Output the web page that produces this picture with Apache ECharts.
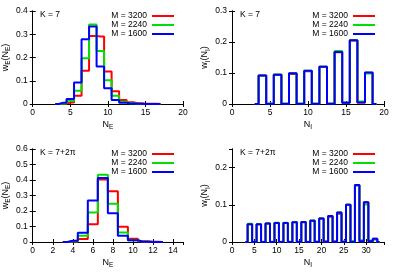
<!DOCTYPE html>
<html><head><meta charset="utf-8">
<script src="https://cdn.jsdelivr.net/npm/echarts@6/dist/echarts.min.js"></script>
<style>html,body{margin:0;padding:0;background:#fff}#c{width:399px;height:278px}</style>
</head><body><div id="c"></div>
<script>
const seriesNames = ['M = 3200', 'M = 2240', 'M = 1600'];
const panelLabels = ['K = 7', 'K = 7', 'K = 7+2\u03c0', 'K = 7+2\u03c0'];

// Panel 1: w_E(N_E), K = 7
const p1X     = [3, 4, 5, 6, 7, 8, 9, 10, 11, 12, 13, 14, 15, 16, 17];
const p1M3200 = [0, 0.002, 0.006, 0.035, 0.143, 0.293, 0.290, 0.140, 0.055, 0.017, 0.007, 0.003, 0.001, 0.001, 0];
const p1M2240 = [0, 0.002, 0.014, 0.057, 0.197, 0.342, 0.228, 0.102, 0.035, 0.010, 0.003, 0.001, 0, 0, 0];
const p1M1600 = [0, 0.005, 0.022, 0.093, 0.278, 0.333, 0.161, 0.068, 0.017, 0.005, 0.002, 0.001, 0, 0, 0];

// Panel 2: w_I(N_I), K = 7
const p2X     = [3, 4, 5, 6, 7, 8, 9, 10, 11, 12, 13, 14, 15, 16, 17, 18, 19];
const p2M3200 = [0, 0.092, 0.001, 0.094, 0.001, 0.097, 0.001, 0.106, 0.001, 0.120, 0.002, 0.167, 0.004, 0.205, 0.005, 0.101, 0];
const p2M2240 = [0, 0.092, 0.002, 0.095, 0.002, 0.099, 0.002, 0.107, 0.002, 0.120, 0.002, 0.171, 0.005, 0.206, 0.008, 0.098, 0];
const p2M1600 = [0, 0.092, 0, 0.094, 0, 0.099, 0, 0.107, 0, 0.120, 0, 0.168, 0.004, 0.206, 0.005, 0.102, 0];

// Panel 3: w_E(N_E), K = 7+2pi
const p3X     = [3, 4, 5, 6, 7, 8, 9, 10, 11, 12, 13];
const p3M3200 = [0, 0.003, 0.020, 0.115, 0.404, 0.328, 0.098, 0.021, 0.005, 0.001, 0];
const p3M2240 = [0, 0.005, 0.040, 0.190, 0.434, 0.247, 0.062, 0.012, 0.002, 0, 0];
const p3M1600 = [0, 0.008, 0.060, 0.268, 0.413, 0.185, 0.040, 0.012, 0.002, 0, 0];

// Panel 4: w_I(N_I), K = 7+2pi
const p4X     = [3, 4, 5, 6, 7, 8, 9, 10, 11, 12, 13, 14, 15, 16, 17, 18, 19, 20, 21, 22, 23, 24, 25, 26, 27, 28, 29, 30, 31, 32, 33];
const p4M3200 = [0, 0.048, 0, 0.048, 0, 0.050, 0, 0.051, 0, 0.051, 0, 0.054, 0, 0.053, 0, 0.057, 0.001, 0.063, 0.002, 0.068, 0.002, 0.076, 0.001, 0.100, 0.001, 0.153, 0.002, 0.107, 0.002, 0.009, 0];
const p4M2240 = [0, 0.049, 0.001, 0.048, 0.001, 0.050, 0.001, 0.052, 0.001, 0.052, 0.001, 0.053, 0.001, 0.054, 0.001, 0.058, 0.001, 0.063, 0.001, 0.070, 0.001, 0.079, 0.002, 0.100, 0.003, 0.151, 0.005, 0.101, 0.004, 0.007, 0];
const p4M1600 = [0, 0.048, 0, 0.048, 0, 0.050, 0, 0.051, 0, 0.051, 0, 0.053, 0, 0.054, 0, 0.057, 0, 0.063, 0, 0.070, 0, 0.079, 0, 0.100, 0, 0.153, 0.002, 0.107, 0.002, 0.009, 0];

// Axis ranges
const xMin = [0, 0, 0, 0], xMax = [20, 20, 15, 34], xStep = [5, 5, 2, 5];
const yMin = [0, 0, 0, 0], yMax = [0.4, 0.3, 0.6, 0.25], yStep = [0.1, 0.1, 0.1, 0.1];

const panelX = [p1X, p2X, p3X, p4X];
const panelY = [[p1M3200, p1M2240, p1M1600], [p2M3200, p2M2240, p2M1600], [p3M3200, p3M2240, p3M1600], [p4M3200, p4M2240, p4M1600]];

const FONT = "'Liberation Sans', Arial, sans-serif";
const colors = ['#ff0000', '#00e000', '#0000ff'];
const grids = [
  {left: 32, top: 11, width: 151, height: 93},
  {left: 232, top: 11, width: 152, height: 93},
  {left: 32, top: 149, width: 151, height: 93},
  {left: 232, top: 149, width: 152, height: 93}
];
const rich = {
  n: {fontSize: 9, fontFamily: FONT, color: '#000'},
  s: {fontSize: 6.5, fontFamily: FONT, color: '#000', padding: [6, 0, 0, 0]}
};
const xNames = ['{n|N}{s|E}', '{n|N}{s|I}', '{n|N}{s|E}', '{n|N}{s|I}'];
const yNames = ['{n|w}{s|E}{n|(N}{s|E}{n|)}', '{n|w}{s|I}{n|(N}{s|I}{n|)}', '{n|w}{s|E}{n|(N}{s|E}{n|)}', '{n|w}{s|I}{n|(N}{s|I}{n|)}'];

const lineAx = {show: true, lineStyle: {color: '#000', width: 1}};
const tick = {show: true, inside: true, length: 3, lineStyle: {color: '#000', width: 1}};
const lbl = {fontSize: 8.5, fontFamily: FONT, color: '#000'};

const xAxis = [], yAxis = [], series = [], legend = [], title = [];
for (let p = 0; p < 4; p++) {
  const base = {type: 'value', gridIndex: p, min: xMin[p], max: xMax[p], interval: xStep[p], splitLine: {show: false}, axisLine: lineAx, axisTick: tick};
  xAxis.push(Object.assign({}, base, {position: 'bottom', axisLabel: Object.assign({}, lbl, {margin: 4, showMaxLabel: p < 2}),
    name: xNames[p], nameLocation: 'middle', nameGap: 14, nameTextStyle: {rich: rich}}));
  xAxis.push(Object.assign({}, base, {position: 'top', axisLabel: {show: false}}));
  const ybase = {type: 'value', gridIndex: p, min: yMin[p], max: yMax[p], interval: yStep[p], splitLine: {show: false}, axisLine: lineAx, axisTick: tick};
  yAxis.push(Object.assign({}, ybase, {position: 'left', axisLabel: Object.assign({}, lbl, {margin: 5, showMaxLabel: p !== 3}),
    name: yNames[p], nameLocation: 'middle', nameGap: 17, nameRotate: 90, nameTextStyle: {rich: rich}}));
  yAxis.push(Object.assign({}, ybase, {position: 'right', axisLabel: {show: false}}));
  for (let s = 0; s < 3; s++) {
    series.push({
      type: 'line', name: seriesNames[s], step: 'middle', symbol: 'none', showSymbol: false,
      xAxisIndex: 2 * p, yAxisIndex: 2 * p, color: colors[s],
      lineStyle: {color: colors[s], width: 2}, itemStyle: {color: colors[s]},
      data: panelX[p].map((x, i) => [x, panelY[p][s][i]]), z: 2 + s, animation: false
    });
  }
  const g = grids[p];
  legend.push({
    data: seriesNames, orient: 'vertical', align: 'right', icon: 'rect',
    right: 399 - (g.left + g.width) + 9, top: g.top + 0.5, itemWidth: 22, itemHeight: 2, itemGap: 0, padding: 0,
    selectedMode: false, textStyle: {fontSize: 8.5, lineHeight: 8.3, fontFamily: FONT, color: '#000'}
  });
  title.push({text: panelLabels[p], left: g.left + 8, top: g.top - 0.5, padding: 0,
    textStyle: {fontSize: 8.5, fontWeight: 'normal', fontFamily: FONT, color: '#000'}});
}

const chart = echarts.init(document.getElementById('c'), null, {renderer: 'canvas'});
chart.setOption({animation: false, backgroundColor: '#fff', grid: grids, xAxis, yAxis, series, legend, title});
</script></body></html>
